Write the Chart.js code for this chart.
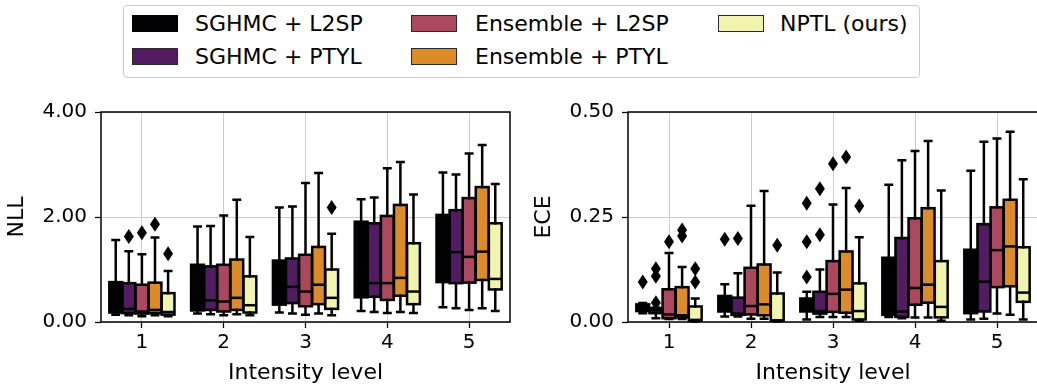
<!DOCTYPE html>
<html>
<head>
<meta charset="utf-8">
<script src="https://cdn.jsdelivr.net/npm/chart.js@4.4.1/dist/chart.umd.min.js"></script>
<style>
  body { margin: 0; background: #fff; width: 1037px; height: 386px; overflow: hidden; position: relative; font-family: 'DejaVu Sans', sans-serif; }
  #legend { position: absolute; left: 123px; top: 5px; width: 795px; height: 71px; border: 1px solid #cccccc; border-radius: 4px; background: #fff; }
  .sw { position: absolute; width: 44px; height: 15px; border: 1px solid #2a2a2a; }
  .lb { position: absolute; font-size: 22px; line-height: 26px; color: #000; white-space: nowrap; }
  #c1 { position: absolute; left: 0; top: 90px; }
  #c2 { position: absolute; left: 527px; top: 90px; }
</style>
</head>
<body>
<div id="legend"></div>
<canvas id="c1" width="520" height="296"></canvas>
<canvas id="c2" width="511" height="296"></canvas>
<script>
var levels = ['1', '2', '3', '4', '5'];
var methods = ['SGHMC + L2SP', 'SGHMC + PTYL', 'Ensemble + L2SP', 'Ensemble + PTYL', 'NPTL (ours)'];
var colors = ['#010103', '#511c62', '#ab485d', '#db8b27', '#f1f4af'];

// NLL, one row per method, one column per intensity level
var nllLow  = [[0.14, 0.16, 0.18, 0.21, 0.28], [0.13, 0.15, 0.16, 0.19, 0.26], [0.11, 0.13, 0.14, 0.17, 0.23], [0.13, 0.15, 0.16, 0.19, 0.26], [0.11, 0.13, 0.13, 0.17, 0.21]];
var nllQ1   = [[0.18, 0.22, 0.33, 0.47, 0.76], [0.17, 0.23, 0.36, 0.48, 0.74], [0.16, 0.20, 0.30, 0.42, 0.75], [0.17, 0.23, 0.34, 0.50, 0.80], [0.14, 0.18, 0.25, 0.34, 0.62]];
var nllMed  = [[0.30, 0.45, 0.69, 0.77, 1.30], [0.25, 0.41, 0.67, 0.74, 1.33], [0.20, 0.39, 0.58, 0.74, 1.24], [0.23, 0.46, 0.71, 0.84, 1.34], [0.19, 0.32, 0.46, 0.58, 0.82]];
var nllQ3   = [[0.76, 1.09, 1.17, 1.91, 2.04], [0.74, 1.06, 1.21, 1.88, 2.13], [0.71, 1.09, 1.28, 2.02, 2.36], [0.75, 1.19, 1.43, 2.23, 2.57], [0.55, 0.87, 1.00, 1.50, 1.88]];
var nllHigh = [[1.56, 1.82, 2.18, 2.34, 2.85], [1.35, 1.83, 2.20, 2.37, 2.81], [1.29, 2.03, 2.65, 2.93, 3.21], [1.61, 2.33, 2.84, 3.05, 3.37], [0.97, 1.62, 1.68, 2.43, 2.63]];
// outliers: [method, level, value]
var nllOut  = [[1, 0, 1.63], [2, 0, 1.70], [3, 0, 1.86], [4, 0, 1.30], [4, 2, 2.18]];

// ECE
var eceLow  = [[0.021, 0.013, 0.006, 0.012, 0.006], [0.009, 0.013, 0.012, 0.009, 0.008], [0.007, 0.008, 0.012, 0.011, 0.020], [0.007, 0.008, 0.012, 0.011, 0.017], [0.001, 0.001, 0.003, 0.003, 0.006]];
var eceQ1   = [[0.026, 0.025, 0.025, 0.017, 0.021], [0.021, 0.017, 0.020, 0.012, 0.025], [0.009, 0.018, 0.024, 0.041, 0.083], [0.011, 0.016, 0.022, 0.046, 0.085], [0.003, 0.003, 0.006, 0.011, 0.048]];
var eceMed  = [[0.035, 0.045, 0.040, 0.060, 0.080], [0.028, 0.020, 0.026, 0.025, 0.096], [0.018, 0.038, 0.067, 0.081, 0.171], [0.016, 0.042, 0.077, 0.089, 0.180], [0.005, 0.004, 0.026, 0.036, 0.070]];
var eceQ3   = [[0.042, 0.062, 0.056, 0.153, 0.172], [0.033, 0.058, 0.072, 0.200, 0.233], [0.078, 0.129, 0.145, 0.247, 0.273], [0.083, 0.137, 0.168, 0.271, 0.291], [0.037, 0.068, 0.092, 0.145, 0.178]];
var eceHigh = [[0.045, 0.090, 0.072, 0.327, 0.360], [0.034, 0.116, 0.125, 0.385, 0.429], [0.164, 0.277, 0.280, 0.407, 0.437], [0.131, 0.312, 0.319, 0.431, 0.453], [0.056, 0.118, 0.202, 0.313, 0.340]];
var eceOut  = [[0, 0, 0.095], [1, 0, 0.127], [1, 0, 0.109], [1, 0, 0.046], [2, 0, 0.191], [3, 0, 0.219], [3, 0, 0.205], [4, 0, 0.127], [4, 0, 0.095],
               [0, 1, 0.197], [1, 1, 0.199], [4, 1, 0.183],
               [0, 2, 0.283], [0, 2, 0.191], [0, 2, 0.107], [1, 2, 0.317], [1, 2, 0.208], [2, 2, 0.377], [3, 2, 0.393], [4, 2, 0.276]];

var nllTicks = [0, 2, 4];
var eceTicks = [0, 0.25, 0.5];

// legend (html, shared by both panels)
var legendPos = [[132, 195, 15], [132, 195, 48], [411, 475, 15], [411, 475, 48], [718, 780, 15]];
var leg = document.getElementById('legend');
methods.forEach(function (name, i) {
  var p = legendPos[i];
  var sw = document.createElement('div');
  sw.className = 'sw';
  sw.style.left = (p[0] - 124) + 'px';
  sw.style.top = (p[2] - 6) + 'px';
  sw.style.background = colors[i];
  if (i == 0) sw.style.borderColor = colors[i];
  leg.appendChild(sw);
  var lb = document.createElement('div');
  lb.className = 'lb';
  lb.textContent = name;
  lb.style.left = (p[1] - 124) + 'px';
  lb.style.top = (p[2] - 10) + 'px';
  leg.appendChild(lb);
});

// whiskers, medians, caps and fliers on top of the bars (bars = q1..q3)
var boxExtras = {
  id: 'boxExtras',
  afterDatasetsDraw: function (chart) {
    var o = chart.options.plugins.boxExtras;
    var ys = chart.scales.y;
    var ctx = chart.ctx;
    ctx.save();
    ctx.strokeStyle = '#000';
    ctx.fillStyle = '#000';
    ctx.lineWidth = 2.5;
    chart.data.datasets.forEach(function (ds, m) {
      var meta = chart.getDatasetMeta(m);
      meta.data.forEach(function (bar, l) {
        var x = bar.x, h = bar.width / 2;
        var pLow = ys.getPixelForValue(o.low[m][l]);
        var pQ1 = ys.getPixelForValue(o.q1[m][l]);
        var pMed = ys.getPixelForValue(o.med[m][l]);
        var pQ3 = ys.getPixelForValue(o.q3[m][l]);
        var pHigh = ys.getPixelForValue(o.high[m][l]);
        ctx.lineCap = 'butt';
        ctx.lineJoin = 'miter';
        ctx.strokeRect(x - h, pQ3, h * 2, pQ1 - pQ3);
        ctx.beginPath();
        ctx.moveTo(x - h, pMed);
        ctx.lineTo(x + h, pMed);
        ctx.stroke();
        ctx.lineCap = 'square';
        ctx.beginPath();
        ctx.moveTo(x, pQ3); ctx.lineTo(x, pHigh);
        ctx.moveTo(x, pQ1); ctx.lineTo(x, pLow);
        ctx.moveTo(x - h / 2, pHigh); ctx.lineTo(x + h / 2, pHigh);
        ctx.moveTo(x - h / 2, pLow); ctx.lineTo(x + h / 2, pLow);
        ctx.stroke();
      });
    });
    o.out.forEach(function (f) {
      var bar = chart.getDatasetMeta(f[0]).data[f[1]];
      var px = bar.x, py = ys.getPixelForValue(f[2]);
      ctx.beginPath();
      ctx.moveTo(px, py - 7.5);
      ctx.lineTo(px + 5, py);
      ctx.lineTo(px, py + 7.5);
      ctx.lineTo(px - 5, py);
      ctx.closePath();
      ctx.fill();
    });
    // axes frame
    var a = chart.chartArea;
    ctx.lineWidth = 1.5;
    ctx.lineCap = 'butt';
    ctx.strokeRect(a.left, a.top, a.right - a.left, a.bottom - a.top);
    ctx.restore();
  }
};

function makePanel(id, title, q1, q3, stats, ticks, padRight) {
  var datasets = methods.map(function (name, m) {
    return {
      label: name,
      data: levels.map(function (lv, l) { return [q1[m][l], q3[m][l]]; }),
      backgroundColor: colors[m],
      borderWidth: 0,
      borderSkipped: false,
      barPercentage: 0.98,
      categoryPercentage: 0.8
    };
  });
  var tickFont = { family: 'DejaVu Sans', size: 20 };
  var titleFont = { family: 'DejaVu Sans', size: 22 };
  var gridOpts = { color: '#cccccc', lineWidth: 1, tickLength: 6, tickColor: '#000', tickWidth: 1.25 };
  return new Chart(document.getElementById(id), {
    type: 'bar',
    data: { labels: levels, datasets: datasets },
    options: {
      responsive: false,
      animation: false,
      devicePixelRatio: 1,
      layout: { padding: { top: 22, right: padRight, left: 0, bottom: 0 } },
      plugins: {
        legend: { display: false },
        tooltip: { enabled: false },
        boxExtras: stats
      },
      scales: {
        x: {
          offset: true,
          grid: Object.assign({ offset: false }, gridOpts),
          border: { display: false },
          ticks: { color: '#000', font: tickFont, padding: 3, maxRotation: 0 },
          title: { display: true, text: 'Intensity level', color: '#000', font: titleFont, padding: { top: 0, bottom: 0 } },
          afterFit: function (s) { s.height = 64; }
        },
        y: {
          min: ticks[0],
          max: ticks[ticks.length - 1],
          grid: gridOpts,
          border: { display: false },
          afterBuildTicks: function (s) { s.ticks = ticks.map(function (v) { return { value: v }; }); },
          ticks: { color: '#000', font: tickFont, padding: 8, callback: function (v) { return Number(v).toFixed(2); } },
          title: { display: true, text: title, color: '#000', font: titleFont, padding: { top: 4, bottom: 4 } },
          afterFit: function (s) { s.width = 101; }
        }
      }
    },
    plugins: [boxExtras]
  });
}

makePanel('c1', 'NLL', nllQ1, nllQ3, { low: nllLow, q1: nllQ1, med: nllMed, q3: nllQ3, high: nllHigh, out: nllOut }, nllTicks, 10);
makePanel('c2', 'ECE', eceQ1, eceQ3, { low: eceLow, q1: eceQ1, med: eceMed, q3: eceQ3, high: eceHigh, out: eceOut }, eceTicks, 0);
</script>
</body>
</html>
